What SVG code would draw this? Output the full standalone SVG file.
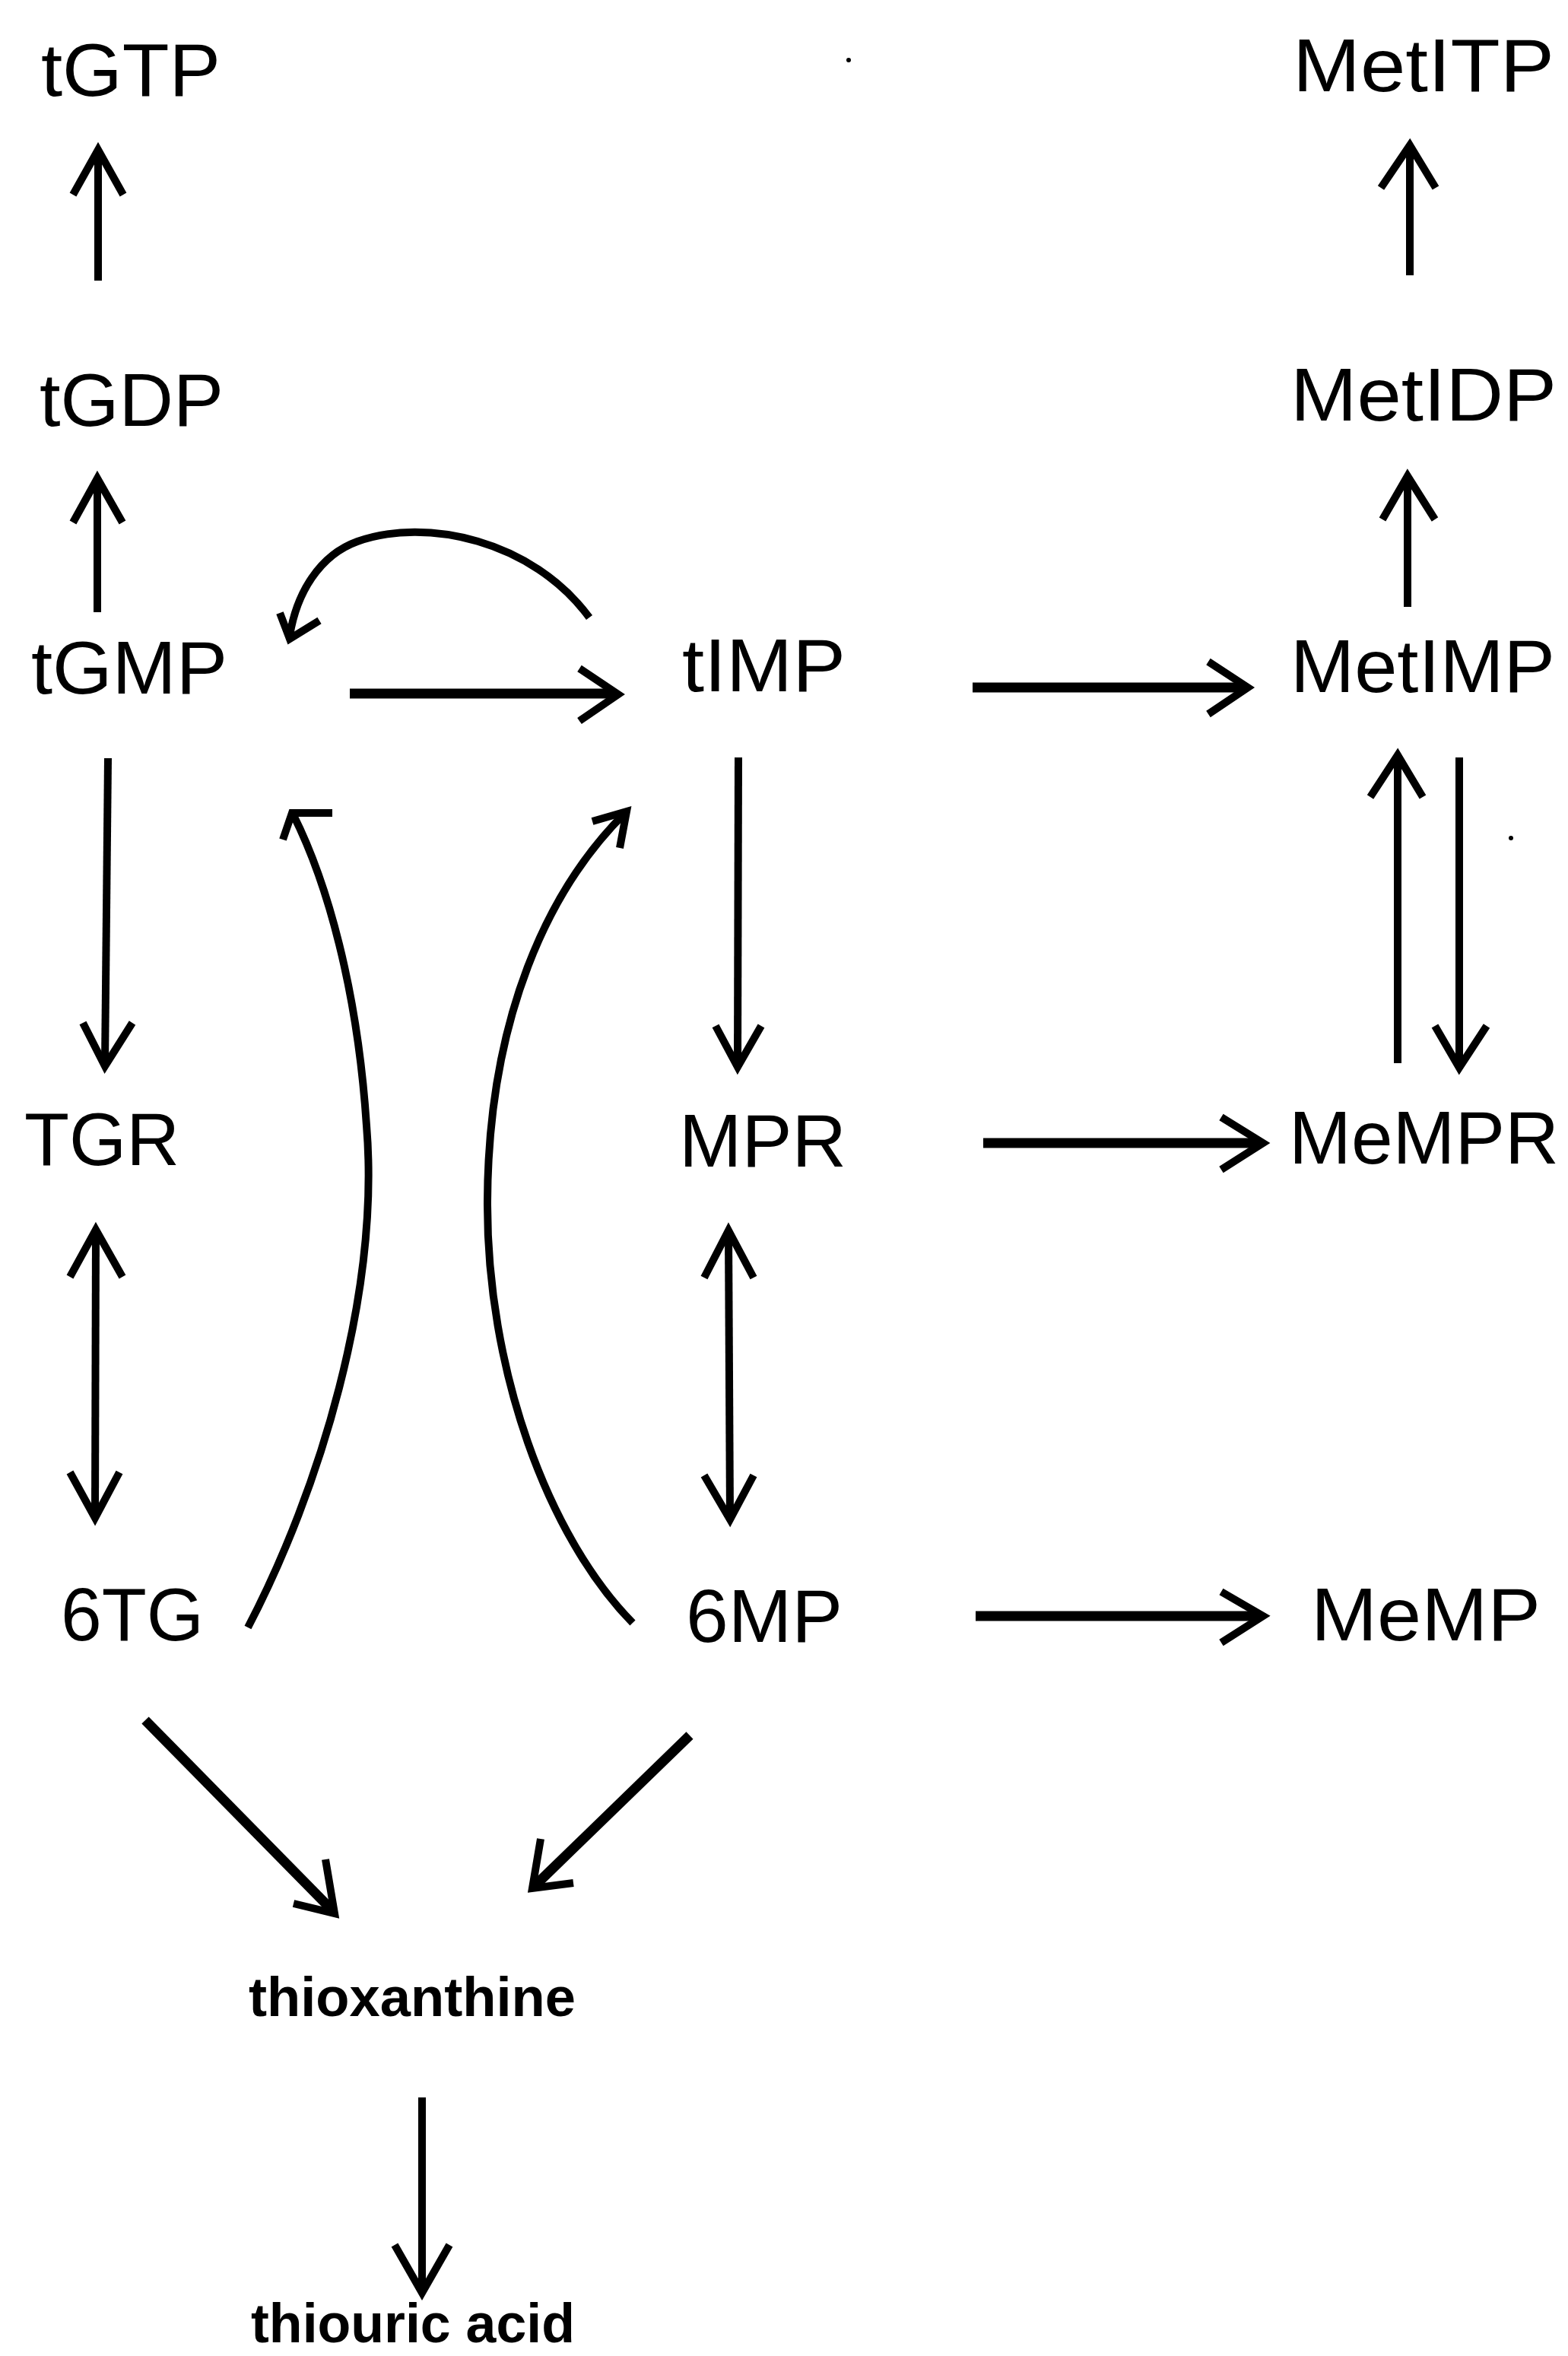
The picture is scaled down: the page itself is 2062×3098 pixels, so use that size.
<svg xmlns="http://www.w3.org/2000/svg" width="2062" height="3098" viewBox="0 0 2062 3098">
<style>
.t{font-family:"Liberation Sans",Arial,sans-serif;font-size:98px;fill:#000}
.b{font-family:"Liberation Sans",Arial,sans-serif;font-size:72px;font-weight:bold;fill:#000}
.l{fill:none;stroke:#000;stroke-width:10}
.h{fill:none;stroke:#000;stroke-width:13}
.a{fill:none;stroke:#000;stroke-width:10;stroke-linejoin:miter}
</style>
<rect width="2062" height="3098" fill="#fff"/>
<g id="tGTP"><text class="t" x="54" y="126" textLength="236" lengthAdjust="spacingAndGlyphs">tGTP</text></g>
<g id="MetITP"><text class="t" x="1700" y="120" textLength="344" lengthAdjust="spacingAndGlyphs">MetITP</text></g>
<g id="tGDP"><text class="t" x="52" y="560" textLength="242" lengthAdjust="spacingAndGlyphs">tGDP</text></g>
<g id="MetIDP"><text class="t" x="1697" y="553" textLength="350" lengthAdjust="spacingAndGlyphs">MetIDP</text></g>
<g id="tGMP"><text class="t" x="41" y="912" textLength="258" lengthAdjust="spacingAndGlyphs">tGMP</text></g>
<g id="tIMP"><text class="t" x="897" y="909" textLength="215" lengthAdjust="spacingAndGlyphs">tIMP</text></g>
<g id="MetIMP"><text class="t" x="1697" y="910" textLength="348" lengthAdjust="spacingAndGlyphs">MetIMP</text></g>
<g id="TGR"><text class="t" x="32" y="1532" textLength="204" lengthAdjust="spacingAndGlyphs">TGR</text></g>
<g id="MPR"><text class="t" x="893" y="1534" textLength="220" lengthAdjust="spacingAndGlyphs">MPR</text></g>
<g id="MeMPR"><text class="t" x="1695" y="1530" textLength="355" lengthAdjust="spacingAndGlyphs">MeMPR</text></g>
<g id="6TG"><text class="t" x="80" y="2157" textLength="188" lengthAdjust="spacingAndGlyphs">6TG</text></g>
<g id="6MP"><text class="t" x="902" y="2159" textLength="206" lengthAdjust="spacingAndGlyphs">6MP</text></g>
<g id="MeMP"><text class="t" x="1724" y="2157" textLength="302" lengthAdjust="spacingAndGlyphs">MeMP</text></g>
<g id="thioxanthine"><text class="b" x="327" y="2651" textLength="430" lengthAdjust="spacingAndGlyphs">thioxanthine</text></g>
<g id="thiouric_acid"><text class="b" x="330" y="3080" font-size="70" textLength="426" lengthAdjust="spacingAndGlyphs">thiouric acid</text></g>
<g id="connectors">
<path class="l" d="M129,369 L129,200"/><path class="a" d="M96,256 L129,197 L162,256"/>
<path class="l" d="M128,805 L128,632"/><path class="a" d="M96,687 L128,629 L161,687"/>
<path class="l" d="M1854,362 L1854,194"/><path class="a" d="M1816,247 L1854,191 L1888,247"/>
<path class="l" d="M1851,798 L1851,629"/><path class="a" d="M1818,683 L1851,626 L1887,683"/>
<path class="h" d="M460,912 L810,912"/><path class="a" d="M762,879 L813,913 L762,948"/>
<path class="l" d="M775,812 C700,710 560,680 470,712 C420,730 390,780 381,836"/><path class="a" d="M368,806 L381,840 L420,816"/>
<path class="h" d="M1279,904 L1638,904"/><path class="a" d="M1589,870 L1641,904 L1589,939"/>
<path class="l" d="M142,997 L138,1399"/><path class="a" d="M109,1345 L138,1402 L174,1345"/>
<path class="l" d="M971,996 L970,1400"/><path class="a" d="M941,1349 L970,1403 L1001,1349"/>
<path class="l" d="M1838,1398 L1838,996"/><path class="a" d="M1802,1048 L1838,993 L1871,1048"/>
<path class="l" d="M1919,996 L1919,1401"/><path class="a" d="M1887,1349 L1919,1404 L1955,1349"/>
<path class="h" d="M1293,1503 L1658,1503"/><path class="a" d="M1606,1469 L1661,1503 L1606,1538"/>
<path class="l" d="M126,1620 L125,1993"/><path class="a" d="M92,1679 L126,1617 L161,1679"/><path class="a" d="M92,1936 L125,1996 L157,1936"/>
<path class="l" d="M958,1621 L960,1995"/><path class="a" d="M926,1680 L958,1618 L991,1680"/><path class="a" d="M926,1940 L960,1998 L991,1940"/>
<path class="l" d="M326,2140 C420,1960 500,1700 482,1480 C470,1300 430,1160 386,1072"/><path class="a" d="M372,1104 L384,1069 L437,1069"/>
<path class="l" d="M832,2134 C720,2020 640,1800 641,1580 C642,1340 720,1170 822,1069"/><path class="a" d="M779,1080 L824,1067 L815,1115"/>
<path class="h" d="M191,2262 L437,2512"/><path class="a" d="M428,2445 L440,2516 L386,2503"/>
<path class="h" d="M907,2282 L703,2480"/><path class="a" d="M711,2418 L700,2483 L754,2476"/>
<path class="h" d="M1283,2125 L1658,2125"/><path class="a" d="M1606,2093 L1661,2125 L1606,2160"/>
<path class="l" d="M555,2758 L555,3012"/><path class="a" d="M519,2952 L555,3015 L591,2952"/>
</g>
<circle cx="1116" cy="79" r="3" fill="#000"/>
<circle cx="1987" cy="1102" r="3" fill="#000"/>
</svg>
